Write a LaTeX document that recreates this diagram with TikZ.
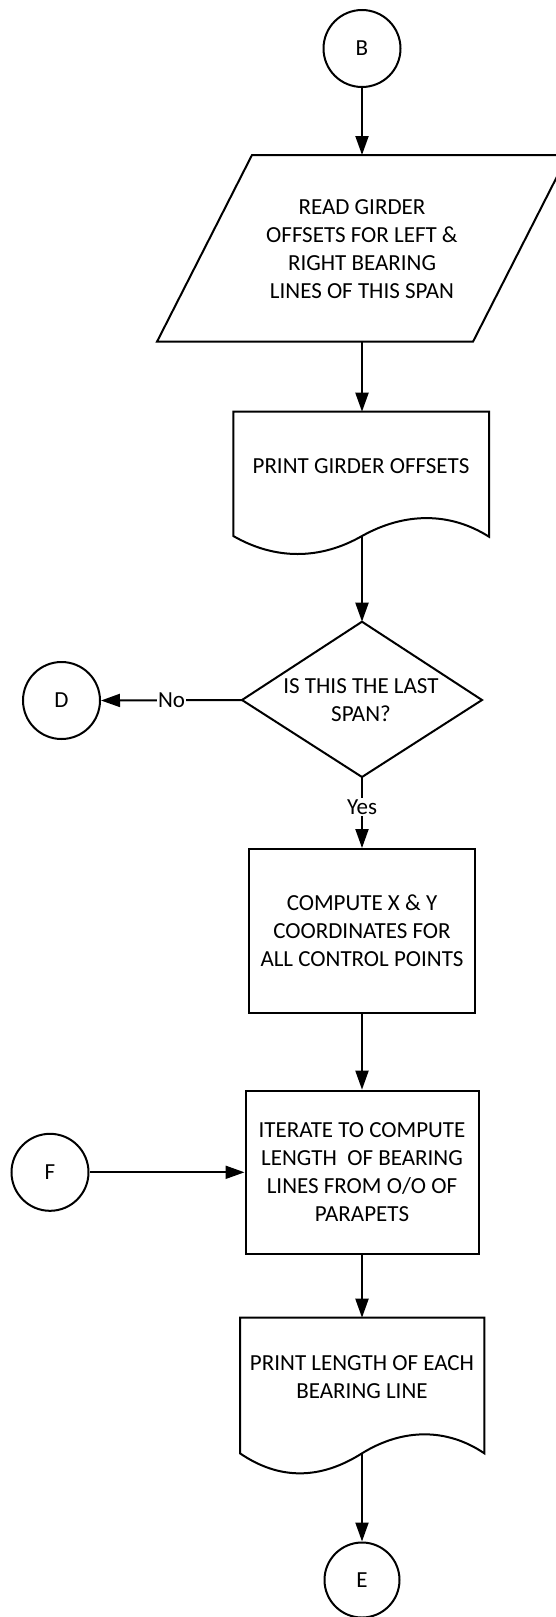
\documentclass[tikz,border=0pt]{standalone}
\usepackage{fontspec}
\setmainfont{Carlito}
\usetikzlibrary{arrows.meta}
\begin{document}
\begin{tikzpicture}[x=1pt,y=1pt,
  line width=2pt,
  every node/.style={font=\fontsize{23}{28}\selectfont, align=center, text=black},
  conn/.style={-{Triangle[length=19pt,width=13pt]}, line width=2pt},
  joint/.style={circle, draw, minimum size=77pt, inner sep=0pt},
  stepbox/.style={draw, rectangle, inner sep=0pt},
  lbl/.style={fill=white, inner sep=1.5pt}
]
\useasboundingbox (0,0) rectangle (556,-1617);
\clip (0,0) rectangle (556,-1617);

% connector B
\node[joint] (B) at (362,-48.5) {B};

% input: read girder offsets
\draw (252,-155) -- (568,-155) -- (473,-341.7) -- (157,-341.7) -- cycle;
\coordinate (readtop) at (362,-155);
\coordinate (readbot) at (362,-341.7);
\node (read) at (362,-249) {READ GIRDER\\OFFSETS FOR LEFT \&\\RIGHT BEARING\\LINES OF THIS SPAN};

% document: print girder offsets
\draw (233.3,-411.7) -- (489,-411.7) -- (489,-536.7)
  .. controls (450,-512) and (405,-512) .. (362,-536)
  .. controls (320,-560) and (275,-560) .. (233.3,-536) -- cycle;
\coordinate (prtop) at (362,-411.7);
\coordinate (prbot) at (362,-536);
\node (print) at (361,-466) {PRINT GIRDER OFFSETS};

% decision
\draw (362,-621.7) -- (482,-700) -- (362,-777) -- (242,-700) -- cycle;
\coordinate (dtop) at (362,-621.7);
\coordinate (dleft) at (242,-700);
\coordinate (dbot) at (362,-777);
\node (last) at (361,-700) {IS THIS THE LAST\\SPAN?};

% connector D
\node[joint] (D) at (61.5,-700.5) {D};

% process boxes
\node[stepbox, minimum width=226pt, minimum height=164.3pt] (compute) at (362,-931.2)
  {COMPUTE X \& Y\\COORDINATES FOR\\ALL CONTROL POINTS};
\node[stepbox, minimum width=233pt, minimum height=163.3pt] (iterate) at (362,-1172.3)
  {ITERATE TO COMPUTE\\LENGTH\ \ OF BEARING\\LINES FROM O/O OF\\PARAPETS};

% connector F
\node[joint] (F) at (50,-1172.3) {F};

% document: print length
\draw (240,-1317.7) -- (484.3,-1317.7) -- (484.3,-1453.3)
  .. controls (447,-1428) and (403,-1428) .. (362,-1453.3)
  .. controls (320,-1480) and (279,-1480) .. (240,-1453.3) -- cycle;
\coordinate (pltop) at (362,-1317.7);
\coordinate (plbot) at (362,-1453.3);
\node (printlen) at (362,-1376.7) {PRINT LENGTH OF EACH\\BEARING LINE};

% connector E
\node[joint, minimum size=75pt] (E) at (362,-1580) {E};

% flow
\draw[conn] (B.south) -- (readtop);
\draw[conn] (readbot) -- (prtop);
\draw[conn] (prbot) -- (dtop);
\draw[conn] (dleft) -- node[lbl, midway] {No} (D.east);
\draw[conn] (dbot) -- node[lbl, pos=0.42] {Yes} (compute.north);
\draw[conn] (compute.south) -- (iterate.north);
\draw[conn] (F.east) -- (iterate.west);
\draw[conn] (iterate.south) -- (pltop);
\draw[conn] (plbot) -- (E.north);
\end{tikzpicture}
\end{document}
